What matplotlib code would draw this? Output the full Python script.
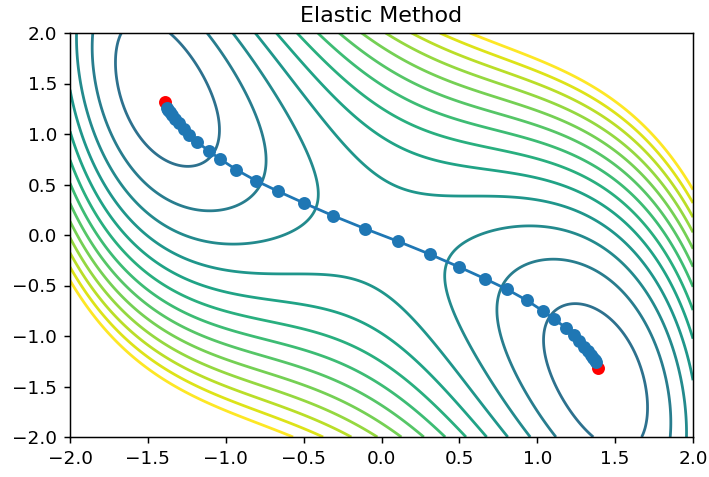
import numpy as np
import matplotlib.pyplot as plt

# energy surface and contour levels
grid_min, grid_max = -2, 2
levels = np.linspace(-12, 12, 20)

# fixed end points of the band
end_x = [-1.39, 1.39]
end_y = [1.32, -1.32]

# images of the elastic band (interior points)
path_x = [-1.379, -1.370, -1.358, -1.343, -1.324, -1.300, -1.270, -1.235, -1.182,
          -1.105, -1.034, -0.931, -0.806, -0.663, -0.500, -0.310, -0.105,
          0.105, 0.310, 0.500, 0.663, 0.806, 0.931, 1.034, 1.105,
          1.182, 1.235, 1.270, 1.300, 1.324, 1.343, 1.358, 1.370, 1.379]
path_y = [1.257, 1.238, 1.214, 1.185, 1.150, 1.106, 1.052, 0.990, 0.918,
          0.828, 0.750, 0.645, 0.538, 0.432, 0.318, 0.190, 0.062,
          -0.062, -0.190, -0.318, -0.432, -0.538, -0.645, -0.750, -0.828,
          -0.918, -0.990, -1.052, -1.106, -1.150, -1.185, -1.214, -1.238, -1.257]


def energy(x, y):
    '''Двухъямный потенциал'''
    return x**4 - 2 * x**2 + 4 * x * y + 2 * y**2


xs = np.linspace(grid_min, grid_max, 300)
X, Y = np.meshgrid(xs, xs)
Z = energy(X, Y)

fig = plt.figure(figsize=(709 / 133, 477 / 133), dpi=133)
ax = fig.add_axes([70 / 709, 40 / 477, 623 / 709, 404 / 477])

ax.contour(X, Y, Z, levels=levels, cmap='viridis')
ax.plot(end_x, end_y, 'ro')
ax.plot(path_x, path_y, 'o-')

ax.set_xlim(grid_min, grid_max)
ax.set_ylim(grid_min, grid_max)
ax.set_title('Elastic Method')

fig.savefig('out.png', dpi=133)
